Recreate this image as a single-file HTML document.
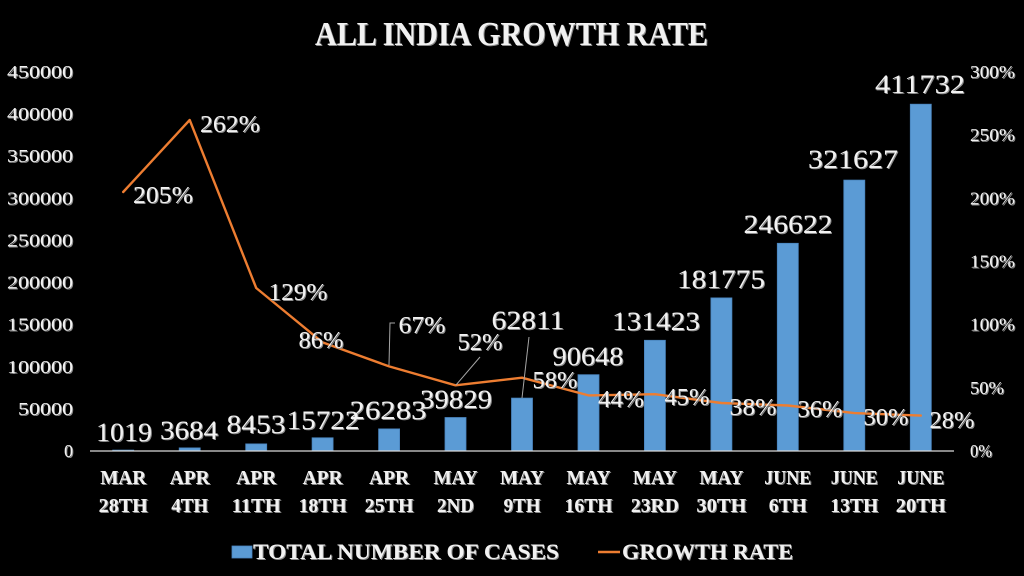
<!DOCTYPE html>
<html>
<head>
<meta charset="utf-8">
<style>
html,body{margin:0;padding:0;background:#000;}
svg{display:block;}
text{font-family:"Liberation Serif",serif;fill:#f2f2f2;}
</style>
</head>
<body>
<svg width="1024" height="576" viewBox="0 0 1024 576" xmlns="http://www.w3.org/2000/svg">
<defs>
<filter id="sh" x="-10%" y="-10%" width="130%" height="140%">
<feDropShadow dx="1" dy="1" stdDeviation="0" flood-color="#8c8c8c" flood-opacity="1"/>
</filter>
</defs>
<rect width="1024" height="576" fill="#000"/>

<!-- Title -->
<g filter="url(#sh)">
<text x="315" y="45" font-size="34" font-weight="bold" textLength="393" lengthAdjust="spacingAndGlyphs">ALL INDIA GROWTH RATE</text>
</g>

<!-- Left axis labels -->
<g filter="url(#sh)" font-size="18" text-anchor="end">
<text x="73" y="457">0</text>
<text x="73" y="414.9" textLength="55" lengthAdjust="spacingAndGlyphs">50000</text>
<text x="73" y="372.8" textLength="66" lengthAdjust="spacingAndGlyphs">100000</text>
<text x="73" y="330.7" textLength="66" lengthAdjust="spacingAndGlyphs">150000</text>
<text x="73" y="288.6" textLength="66" lengthAdjust="spacingAndGlyphs">200000</text>
<text x="73" y="246.4" textLength="66" lengthAdjust="spacingAndGlyphs">250000</text>
<text x="73" y="204.3" textLength="66" lengthAdjust="spacingAndGlyphs">300000</text>
<text x="73" y="162.2" textLength="66" lengthAdjust="spacingAndGlyphs">350000</text>
<text x="73" y="120.1" textLength="66" lengthAdjust="spacingAndGlyphs">400000</text>
<text x="73" y="78" textLength="66" lengthAdjust="spacingAndGlyphs">450000</text>
</g>

<!-- Right axis labels -->
<g filter="url(#sh)" font-size="18">
<text x="970" y="457" textLength="22" lengthAdjust="spacingAndGlyphs">0%</text>
<text x="970" y="393.8" textLength="34" lengthAdjust="spacingAndGlyphs">50%</text>
<text x="970" y="330.7" textLength="45" lengthAdjust="spacingAndGlyphs">100%</text>
<text x="970" y="267.5" textLength="45" lengthAdjust="spacingAndGlyphs">150%</text>
<text x="970" y="204.3" textLength="45" lengthAdjust="spacingAndGlyphs">200%</text>
<text x="970" y="141.2" textLength="45" lengthAdjust="spacingAndGlyphs">250%</text>
<text x="970" y="78" textLength="45" lengthAdjust="spacingAndGlyphs">300%</text>
</g>

<!-- Bars -->
<g fill="#5B9BD5" stroke="#4a84bd" stroke-width="0.8">
<rect x="112.7" y="450.1" width="21" height="0.9"/>
<rect x="179.2" y="447.9" width="21" height="3.1"/>
<rect x="245.7" y="443.9" width="21" height="7.1"/>
<rect x="312.1" y="437.8" width="21" height="13.2"/>
<rect x="378.6" y="428.9" width="21" height="22.1"/>
<rect x="445.0" y="417.5" width="21" height="33.5"/>
<rect x="511.5" y="398.1" width="21" height="52.9"/>
<rect x="578.0" y="374.7" width="21" height="76.3"/>
<rect x="644.4" y="340.3" width="21" height="110.7"/>
<rect x="710.9" y="297.9" width="21" height="153.1"/>
<rect x="777.3" y="243.3" width="21" height="207.7"/>
<rect x="843.8" y="180.1" width="21" height="270.9"/>
<rect x="910.3" y="104.2" width="21" height="346.8"/>
</g>

<!-- Axis line -->
<line x1="90" y1="451" x2="954" y2="451" stroke="#d9d9d9" stroke-width="1.2"/>

<!-- Growth line -->
<polyline fill="none" stroke="#ED7D31" stroke-width="2.4" stroke-linejoin="round" stroke-linecap="round"
points="123.2,192 189.7,120 256.2,288 322.6,342.4 389.1,366.4 455.5,385.3 522,377.7 588.5,395.4 654.9,394.2 721.4,403 787.8,405.5 854.3,413.1 920.8,415.6"/>

<!-- Leader lines -->
<g stroke="#a6a6a6" stroke-width="1" fill="none">
<polyline points="395,323 390,323 389,365"/>
<line x1="480" y1="357" x2="456" y2="385"/>
<line x1="529" y1="337" x2="522" y2="398"/>
</g>

<!-- Bar value labels -->
<g filter="url(#sh)" font-size="26" text-anchor="middle">
<text x="124" y="441" textLength="56" lengthAdjust="spacingAndGlyphs">1019</text>
<text x="189" y="439" textLength="58" lengthAdjust="spacingAndGlyphs">3684</text>
<text x="256" y="433" textLength="59" lengthAdjust="spacingAndGlyphs">8453</text>
<text x="323" y="429" textLength="73" lengthAdjust="spacingAndGlyphs">15722</text>
<text x="388" y="419" textLength="77" lengthAdjust="spacingAndGlyphs">26283</text>
<text x="456" y="408" textLength="72" lengthAdjust="spacingAndGlyphs">39829</text>
<text x="528" y="329" textLength="73" lengthAdjust="spacingAndGlyphs">62811</text>
<text x="588" y="365" textLength="71" lengthAdjust="spacingAndGlyphs">90648</text>
<text x="656" y="330" textLength="88" lengthAdjust="spacingAndGlyphs">131423</text>
<text x="721" y="288" textLength="88" lengthAdjust="spacingAndGlyphs">181775</text>
<text x="788" y="233" textLength="89" lengthAdjust="spacingAndGlyphs">246622</text>
<text x="853" y="168" textLength="90" lengthAdjust="spacingAndGlyphs">321627</text>
<text x="920" y="93" textLength="90" lengthAdjust="spacingAndGlyphs">411732</text>
</g>

<!-- Percent labels -->
<g filter="url(#sh)" font-size="24" text-anchor="middle">
<text x="163" y="203" textLength="60" lengthAdjust="spacingAndGlyphs">205%</text>
<text x="230" y="132" textLength="60" lengthAdjust="spacingAndGlyphs">262%</text>
<text x="298" y="300" textLength="59" lengthAdjust="spacingAndGlyphs">129%</text>
<text x="321" y="348" textLength="45" lengthAdjust="spacingAndGlyphs">86%</text>
<text x="422" y="333" textLength="47" lengthAdjust="spacingAndGlyphs">67%</text>
<text x="480" y="350" textLength="45" lengthAdjust="spacingAndGlyphs">52%</text>
<text x="555" y="388" textLength="45" lengthAdjust="spacingAndGlyphs">58%</text>
<text x="621" y="407" textLength="46" lengthAdjust="spacingAndGlyphs">44%</text>
<text x="687" y="405" textLength="45" lengthAdjust="spacingAndGlyphs">45%</text>
<text x="753" y="415" textLength="47" lengthAdjust="spacingAndGlyphs">38%</text>
<text x="820" y="417" textLength="45" lengthAdjust="spacingAndGlyphs">36%</text>
<text x="886" y="425" textLength="45" lengthAdjust="spacingAndGlyphs">30%</text>
<text x="952" y="428" textLength="45" lengthAdjust="spacingAndGlyphs">28%</text>
</g>

<!-- X axis labels -->
<g filter="url(#sh)" font-size="20" font-weight="bold" text-anchor="middle">
<text x="123.2" y="484" textLength="46" lengthAdjust="spacingAndGlyphs">MAR</text>
<text x="123.2" y="512" textLength="49" lengthAdjust="spacingAndGlyphs">28TH</text>
<text x="189.7" y="484" textLength="40" lengthAdjust="spacingAndGlyphs">APR</text>
<text x="189.7" y="512" textLength="37" lengthAdjust="spacingAndGlyphs">4TH</text>
<text x="256.2" y="484" textLength="40" lengthAdjust="spacingAndGlyphs">APR</text>
<text x="256.2" y="512" textLength="49" lengthAdjust="spacingAndGlyphs">11TH</text>
<text x="322.6" y="484" textLength="40" lengthAdjust="spacingAndGlyphs">APR</text>
<text x="322.6" y="512" textLength="48" lengthAdjust="spacingAndGlyphs">18TH</text>
<text x="389.1" y="484" textLength="40" lengthAdjust="spacingAndGlyphs">APR</text>
<text x="389.1" y="512" textLength="49" lengthAdjust="spacingAndGlyphs">25TH</text>
<text x="455.5" y="484" textLength="44" lengthAdjust="spacingAndGlyphs">MAY</text>
<text x="455.5" y="512" textLength="37" lengthAdjust="spacingAndGlyphs">2ND</text>
<text x="522" y="484" textLength="44" lengthAdjust="spacingAndGlyphs">MAY</text>
<text x="522" y="512" textLength="37" lengthAdjust="spacingAndGlyphs">9TH</text>
<text x="588.5" y="484" textLength="44" lengthAdjust="spacingAndGlyphs">MAY</text>
<text x="588.5" y="512" textLength="48" lengthAdjust="spacingAndGlyphs">16TH</text>
<text x="654.9" y="484" textLength="44" lengthAdjust="spacingAndGlyphs">MAY</text>
<text x="654.9" y="512" textLength="48" lengthAdjust="spacingAndGlyphs">23RD</text>
<text x="721.4" y="484" textLength="44" lengthAdjust="spacingAndGlyphs">MAY</text>
<text x="721.4" y="512" textLength="50" lengthAdjust="spacingAndGlyphs">30TH</text>
<text x="787.8" y="484" textLength="47" lengthAdjust="spacingAndGlyphs">JUNE</text>
<text x="787.8" y="512" textLength="38" lengthAdjust="spacingAndGlyphs">6TH</text>
<text x="854.3" y="484" textLength="47" lengthAdjust="spacingAndGlyphs">JUNE</text>
<text x="854.3" y="512" textLength="48" lengthAdjust="spacingAndGlyphs">13TH</text>
<text x="920.8" y="484" textLength="47" lengthAdjust="spacingAndGlyphs">JUNE</text>
<text x="920.8" y="512" textLength="50" lengthAdjust="spacingAndGlyphs">20TH</text>
</g>

<!-- Legend -->
<rect x="232" y="546" width="20" height="12" fill="#5B9BD5" stroke="#4a84bd" stroke-width="0.8"/>
<line x1="598" y1="552" x2="620" y2="552" stroke="#ED7D31" stroke-width="2.4"/>
<g filter="url(#sh)" font-size="22" font-weight="bold">
<text x="253" y="559" textLength="306" lengthAdjust="spacingAndGlyphs">TOTAL NUMBER OF CASES</text>
<text x="622" y="559" textLength="171" lengthAdjust="spacingAndGlyphs">GROWTH RATE</text>
</g>
</svg>
</body>
</html>
